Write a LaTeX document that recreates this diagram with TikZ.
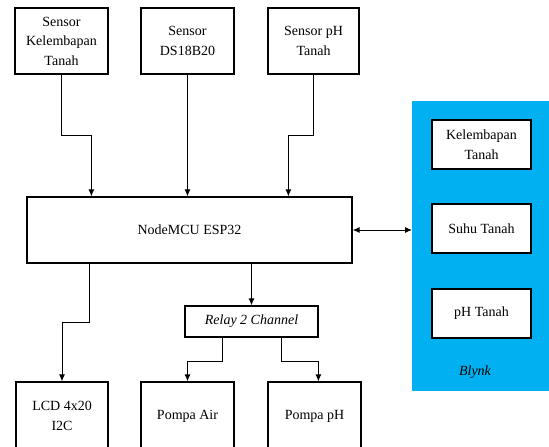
\documentclass[tikz,border=0pt]{standalone}
\usepackage{fontspec}
\setmainfont{Liberation Serif}
\usetikzlibrary{arrows,arrows.meta,positioning}
\definecolor{blynkblue}{HTML}{00B0F0}
\begin{document}
\begin{tikzpicture}[x=1pt,y=-1pt]
    \tikzstyle{every node}+=[inner sep=0pt]
    \tikzstyle{blok}=[draw=black, line width=1.2pt, fill=white, align=center, font=\fontsize{14}{19.5}\selectfont]
    \tikzstyle{panah}=[black, line width=1pt, -{Latex[length=7pt,width=6pt]}]
    \useasboundingbox (0,0) rectangle (549,447);
    \node [blok, minimum width=93pt, minimum height=66pt] (kelembapan) at (61.5,41) {Sensor\\Kelembapan\\Tanah};
    \node [blok, minimum width=93pt, minimum height=66pt] (ds18b20) at (187.5,41) {Sensor\\DS18B20};
    \node [blok, minimum width=91pt, minimum height=66pt] (phsensor) at (313.5,41) {Sensor pH\\Tanah};
    \node [blok, minimum width=325pt, minimum height=66pt] (mcu) at (189.5,230) {NodeMCU ESP32};
    \node [fill=blynkblue, minimum width=140pt, minimum height=290pt, anchor=north west] (blynk) at (412,101) {};
    \node [blok, minimum width=99pt, minimum height=49pt] (klmb) at (481.5,144.5) {Kelembapan\\Tanah};
    \node [blok, minimum width=99pt, minimum height=49pt] (suhu) at (481.5,228.5) {Suhu Tanah};
    \node [blok, minimum width=99pt, minimum height=49pt] (phtanah) at (481.5,313.5) {pH Tanah};
    \node [font=\fontsize{14}{19.5}\selectfont\itshape] (blynklabel) at (475,372) {Blynk};
    \node [blok, minimum width=133pt, minimum height=31pt] (relay) at (251.5,321.5) {\itshape Relay 2 Channel};
    \node [blok, minimum width=92pt, minimum height=68pt] (lcd) at (62,416) {LCD 4x20\\I2C};
    \node [blok, minimum width=93pt, minimum height=68pt] (pompaair) at (187.5,416) {Pompa Air};
    \node [blok, minimum width=93pt, minimum height=68pt] (pompaph) at (314.5,416) {Pompa pH};
    \draw [panah] (kelembapan.south) -- ++(0,61) -| ([xshift=65pt]mcu.north west);
    \draw [panah] (ds18b20.south) -- (ds18b20.south |- mcu.north);
    \draw [panah] (phsensor.south) -- ++(0,61) -| ([xshift=262pt]mcu.north west);
    \draw [panah, {Latex[length=7pt,width=6pt]}-{Latex[length=7pt,width=6pt]}] (mcu.east) -- (mcu.east -| blynk.west);
    \draw [panah] ([xshift=63pt]mcu.south west) -- ++(0,59) -| (lcd.north);
    \draw [panah] (relay.north |- mcu.south) -- (relay.north);
    \draw [panah] ([xshift=38pt]relay.south west) -- ++(0,24) -| (pompaair.north);
    \draw [panah] ([xshift=97pt]relay.south west) -- ++(0,24) -| ([xshift=51pt]pompaph.north west);
\end{tikzpicture}
\end{document}
